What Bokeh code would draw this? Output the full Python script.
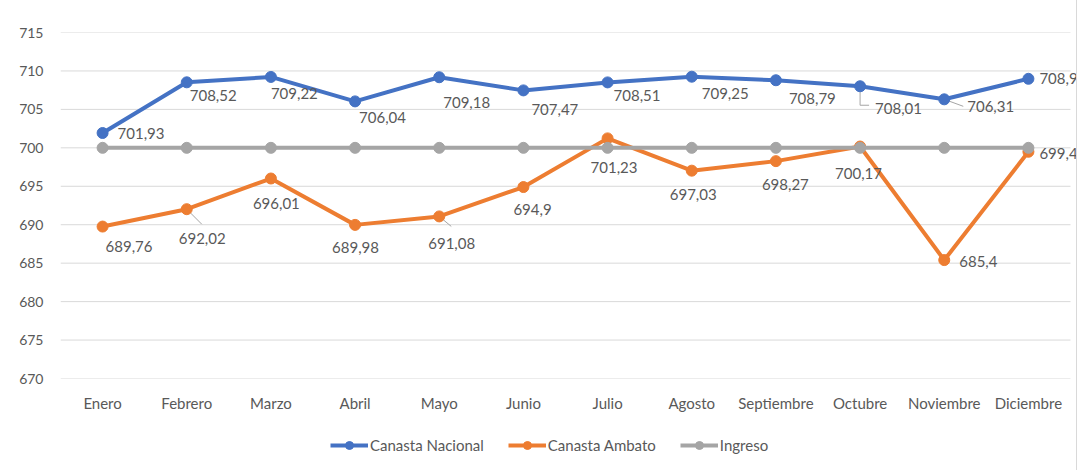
from bokeh.plotting import figure
from bokeh.layouts import column
from bokeh.models import (ColumnDataSource, Legend, LegendItem, FixedTicker,
                          LabelSet, Range1d)
from bokeh.core.properties import value
from bokeh.embed import file_html
from bokeh.resources import INLINE

months = ["Enero", "Febrero", "Marzo", "Abril", "Mayo", "Junio", "Julio",
          "Agosto", "Septiembre", "Octubre", "Noviembre", "Diciembre"]
nacional = [701.93, 708.52, 709.22, 706.04, 709.18, 707.47, 708.51, 709.25,
            708.79, 708.01, 706.31, 708.98]
ambato = [689.76, 692.02, 696.01, 689.98, 691.08, 694.9, 701.23, 697.03,
          698.27, 700.17, 685.4, 699.49]
ingreso = [700] * 12
y_ticks = [670, 675, 680, 685, 690, 695, 700, 705, 710, 715]

# label offsets in screen pixels (left edge of text, vertical centre; +dy = down)
nac_dx = [15, 3, 0, 4, 4, 8, 6, 10, 13, 15, 23, 11]
nac_dy = [1, 13, 17, 16, 25, 19, 13, 17, 18, 22, 7, 0]
amb_dx = [3, -8, -18, -23, -11, -10, -17, -22, -14, -25, 15, 11]
amb_dy = [20, 29, 25, 23, 27, 22, 29, 24, 23, 27, 1, 2]

# leader lines: (series, month index, pixel path from the point)
leaders = [
    ("nac", 9, [(0, 0), (0, 19), (9, 19)]),
    ("nac", 10, [(0, 0), (19, 7)]),
    ("amb", 1, [(0, 0), (15, 15)]),
    ("amb", 4, [(0, 0), (12, 10)]),
]


def fmt(v):
    s = ("%.2f" % v).rstrip("0").rstrip(".")
    return s.replace(".", ",")


FONT = "Lato"
TXT = "#595959"
BLUE = "#4472C4"
ORANGE = "#ED7D31"
GRAY = "#A5A5A5"
GRID = "#d9d9d9"

xs = list(range(len(months)))
n = len(months)
FRAME_W = 1016
FRAME_H = 346
CAT_W = 1010 / n  # pixel width of one category in the original chart
x_end = -0.5 + FRAME_W / CAT_W
PX_Y = FRAME_H / (y_ticks[-1] - y_ticks[0])

p = figure(x_range=Range1d(-0.5, x_end), y_range=Range1d(y_ticks[0], y_ticks[-1]),
           frame_width=FRAME_W, frame_height=FRAME_H,
           output_backend="svg", toolbar_location=None,
           min_border_left=60, min_border_right=0, min_border_top=32,
           min_border_bottom=42)
p.outline_line_color = None
p.xgrid.grid_line_color = None
p.ygrid.grid_line_color = None
p.yaxis.ticker = FixedTicker(ticks=y_ticks)
p.xaxis.ticker = FixedTicker(ticks=xs)
p.xaxis.major_label_overrides = {i: m for i, m in zip(xs, months)}

for ax in (p.xaxis, p.yaxis):
    ax.axis_line_color = None
    ax.major_tick_line_color = None
    ax.minor_tick_line_color = None
    ax.major_label_text_font = FONT
    ax.major_label_text_color = TXT
p.yaxis.major_label_text_font_size = "14px"
p.yaxis.major_label_standoff = 11
p.xaxis.major_label_text_font_size = "15px"
p.xaxis.major_label_standoff = 9

# horizontal gridlines spanning the category area
p.segment(x0=-0.5, x1=n - 0.5, y0=y_ticks, y1=y_ticks,
          line_color=GRID, line_width=1)

# leader lines (converted from pixel paths)
series = {"nac": nacional, "amb": ambato}
lx, ly = [], []
for s, i, path in leaders:
    lx.append([xs[i] + px / CAT_W for px, py in path])
    ly.append([series[s][i] - py / PX_Y for px, py in path])
p.multi_line(xs=lx, ys=ly, line_color=GRAY, line_width=1)

src_n = ColumnDataSource(dict(x=xs, y=nacional,
                              t=[fmt(v) for v in nacional],
                              dx=nac_dx, dy=[-d for d in nac_dy]))
src_a = ColumnDataSource(dict(x=xs, y=ambato,
                              t=[fmt(v) for v in ambato],
                              dx=amb_dx, dy=[-d for d in amb_dy]))
src_i = ColumnDataSource(dict(x=xs, y=ingreso))


def draw(fig):
    r = []
    for src, col in ((src_n, BLUE), (src_a, ORANGE), (src_i, GRAY)):
        l = fig.line("x", "y", source=src, line_color=col, line_width=4)
        m = fig.scatter("x", "y", source=src, size=11, color=col)
        r.append((l, m))
    return r


draw(p)

for src in (src_n, src_a):
    labels = LabelSet(x="x", y="y", text="t", source=src,
                      x_offset="dx", y_offset="dy",
                      text_font=value(FONT), text_font_size="15px",
                      text_color=TXT, text_align="left",
                      text_baseline="middle")
    p.add_layout(labels)

# legend strip underneath (same series, drawn outside its visible range)
q = figure(x_range=p.x_range, y_range=Range1d(0, 1), width=1076, height=50,
           output_backend="svg", toolbar_location=None,
           min_border_left=0, min_border_right=0, min_border_top=0,
           min_border_bottom=0)
q.axis.visible = False
q.grid.visible = False
q.outline_line_color = None
rs = draw(q)

legend = Legend(items=[
    LegendItem(label="Canasta Nacional", renderers=list(rs[0])),
    LegendItem(label="Canasta Ambato", renderers=list(rs[1])),
    LegendItem(label="Ingreso", renderers=list(rs[2])),
], orientation="horizontal", location=(270, 15))
legend.label_text_font = FONT
legend.label_text_font_size = "15px"
legend.label_text_color = TXT
legend.glyph_width = 38
legend.glyph_height = 20
legend.label_standoff = 2
legend.spacing = 24
legend.border_line_color = None
legend.background_fill_alpha = 0
legend.margin = 0
legend.padding = 0
q.add_layout(legend)

layout = column(p, q, spacing=0)
layout.styles = {"outline": "1px solid #d9d9d9"}

open("out.html", "w").write(file_html(layout, INLINE))
